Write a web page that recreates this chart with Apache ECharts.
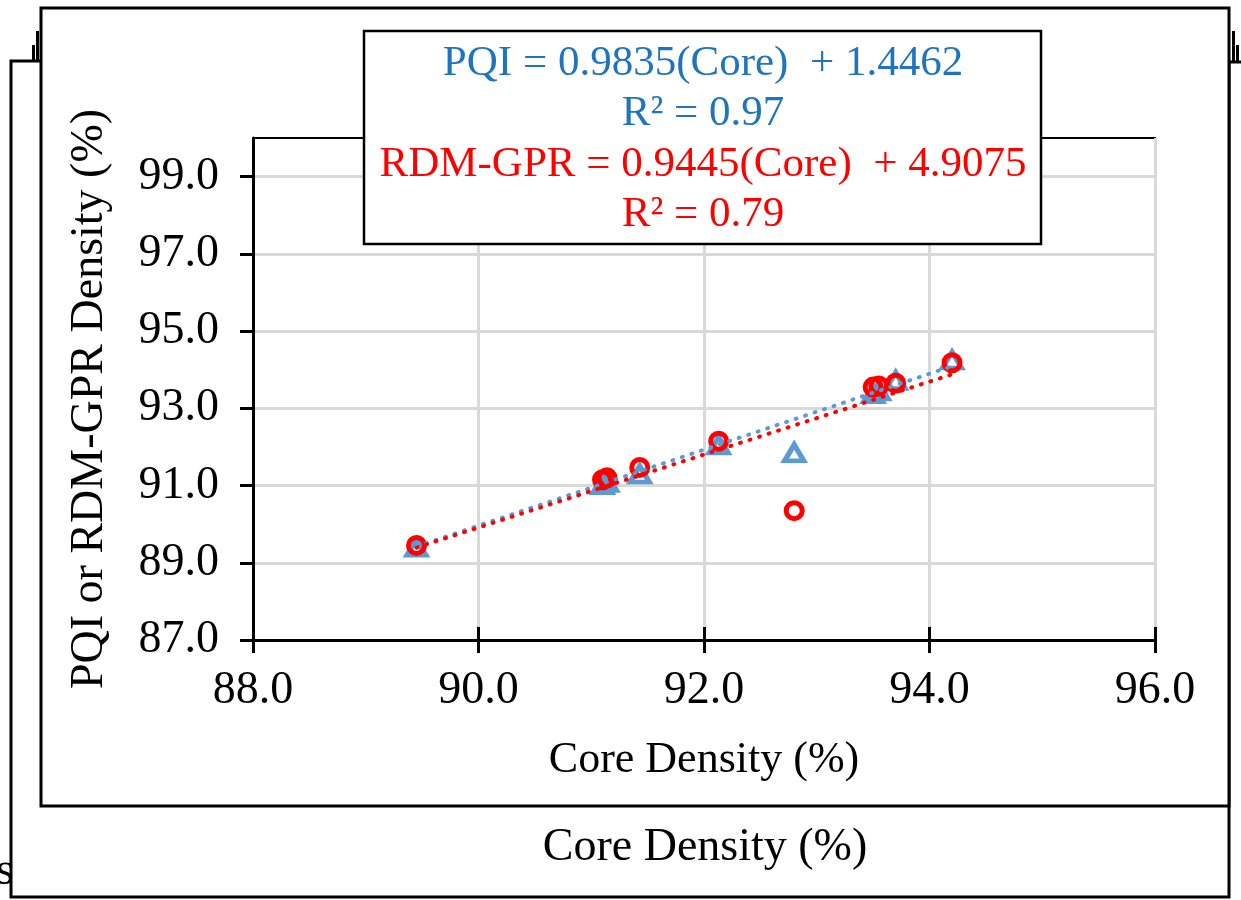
<!DOCTYPE html>
<html>
<head>
<meta charset="utf-8">
<title>Core vs PQI / RDM-GPR density</title>
<script src="https://cdn.jsdelivr.net/npm/echarts@6/dist/echarts.min.js"></script>
<style>
  html, body { margin: 0; padding: 0; background: #fff; }
  #main { width: 1241px; height: 900px; }
</style>
</head>
<body>
<div id="main"></div>
<script>
// datos
var coreDensity = [89.45, 91.10, 91.14, 91.43, 92.13, 92.80, 93.50, 93.55, 93.70, 94.20];
var pqiDensity  = [89.40, 91.02, 91.08, 91.30, 92.05, 91.85, 93.38, 93.45, 93.72, 94.25];
var rdmDensity  = [89.45, 91.15, 91.20, 91.47, 92.15, 90.35, 93.55, 93.58, 93.65, 94.18];

// ecuaciones de tendencia [pendiente, intercepto]
var pqiFit = [0.9835, 1.4462];
var rdmFit = [0.9445, 4.9075];

var yTicks = [87, 89, 91, 93, 95, 97, 99];
var xTicks = [88, 90, 92, 94, 96];

var eqLines = [
  'PQI = 0.9835(Core)  + 1.4462',
  'R\u00B2 = 0.97',
  'RDM-GPR = 0.9445(Core)  + 4.9075',
  'R\u00B2 = 0.79'
];

var serif = "'Liberation Serif', 'Times New Roman', serif";
var blue = '#5B9BD5';
var red = '#FF0000';

function pairs(xs, ys) {
  return xs.map(function (x, i) { return [x, ys[i]]; });
}
function trend(fit) {
  var lo = Math.min.apply(null, coreDensity);
  var hi = Math.max.apply(null, coreDensity);
  return [[lo, fit[0] * lo + fit[1]], [hi, fit[0] * hi + fit[1]]];
}

var chartDom = document.getElementById('main');
var myChart = echarts.init(chartDom, null, { renderer: 'canvas' });
var option;

option = {
  backgroundColor: '#fff',
  animation: false,
  textStyle: { fontFamily: serif },
  grid: {
    left: 253, top: 138, width: 902, height: 502,
    show: true, borderColor: '#000', borderWidth: 2, backgroundColor: 'transparent'
  },
  xAxis: [
    {
      type: 'value', min: 88, max: 96, interval: 2,
      name: 'Core Density (%)', nameLocation: 'middle', nameGap: 98,
      nameTextStyle: { fontFamily: serif, fontSize: 44, color: '#000' },
      axisLine: { lineStyle: { color: '#000', width: 3 } },
      axisTick: { show: true, length: 13, lineStyle: { color: '#000', width: 3 }, customValues: xTicks },
      axisLabel: {
        fontFamily: serif, fontSize: 46, color: '#000', margin: 28,
        customValues: xTicks,
        formatter: function (v) { return v.toFixed(1); }
      },
      splitLine: { show: true, lineStyle: { color: '#d9d9d9', width: 3 } }
    },
    {
      // marcas hacia adentro (cruzadas como en Excel)
      type: 'value', min: 88, max: 96, interval: 2, position: 'bottom',
      axisLine: { show: false },
      axisTick: { show: true, inside: true, length: 13, lineStyle: { color: '#000', width: 3 } },
      axisLabel: { show: false },
      splitLine: { show: false }
    }
  ],
  yAxis: {
    type: 'value', min: 87, max: 100, interval: 2,
    name: 'PQI or RDM-GPR Density (%)', nameLocation: 'middle', nameGap: 140,
    nameTextStyle: { fontFamily: serif, fontSize: 46, color: '#000', padding: [0, 20, 0, 0] },
    axisLine: { show: true, lineStyle: { color: '#000', width: 3 } },
    axisTick: { show: true, length: 13, lineStyle: { color: '#000', width: 3 }, customValues: yTicks },
    axisLabel: {
      fontFamily: serif, fontSize: 46, color: '#000', margin: 34,
      customValues: yTicks,
      formatter: function (v) { return v.toFixed(1); }
    },
    splitLine: { show: true, lineStyle: { color: '#d9d9d9', width: 3 } }
  },
  graphic: [
    // restos de texto recortado en los bordes
    {
      type: 'text', z: -21, silent: true,
      style: { text: 's', x: 14, y: 872, align: 'right', verticalAlign: 'middle', font: '46px ' + serif, fill: '#000' }
    },
    {
      type: 'rect', z: -17, silent: true,
      shape: { x: 36, y: 31, width: 3, height: 30 },
      style: { fill: '#000' }
    },
    {
      type: 'rect', z: -17, silent: true,
      shape: { x: 32, y: 45, width: 3, height: 16 },
      style: { fill: '#000' }
    },
    {
      type: 'rect', z: -17, silent: true,
      shape: { x: 1232, y: 31, width: 3, height: 31 },
      style: { fill: '#000' }
    },
    {
      type: 'rect', z: -17, silent: true,
      shape: { x: 1236, y: 45, width: 3, height: 17 },
      style: { fill: '#000' }
    },
    // marco trasero
    {
      type: 'rect', z: -20, silent: true,
      shape: { x: 11, y: 61, width: 1218, height: 836 },
      style: { fill: '#fff', stroke: '#000', lineWidth: 3 }
    },
    {
      type: 'line', z: -20, silent: true,
      shape: { x1: 1229, y1: 62, x2: 1241, y2: 62 },
      style: { stroke: '#000', lineWidth: 3 }
    },
    {
      type: 'text', z: -19, silent: true,
      style: {
        text: 'Core Density (%)', x: 705, y: 848, align: 'center', verticalAlign: 'middle',
        font: '46px ' + serif, fill: '#000'
      }
    },
    // marco del grafico
    {
      type: 'rect', z: -18, silent: true,
      shape: { x: 41, y: 8, width: 1188, height: 798 },
      style: { fill: '#fff', stroke: '#000', lineWidth: 3 }
    },
    // cuadro de ecuaciones
    {
      type: 'group', z: 100,
      children: [
        {
          type: 'rect', z: 100, silent: true,
          shape: { x: 364, y: 31, width: 677, height: 213 },
          style: { fill: '#fff', stroke: '#000', lineWidth: 2.5 }
        },
        {
          type: 'text', z: 101, silent: true,
          style: { text: eqLines[0], x: 703, y: 64, align: 'center', verticalAlign: 'middle', font: '43px ' + serif, fill: '#1F74BF' }
        },
        {
          type: 'text', z: 101, silent: true,
          style: { text: eqLines[1], x: 703, y: 114, align: 'center', verticalAlign: 'middle', font: '43px ' + serif, fill: '#1F74BF' }
        },
        {
          type: 'text', z: 101, silent: true,
          style: { text: eqLines[2], x: 703, y: 165, align: 'center', verticalAlign: 'middle', font: '43px ' + serif, fill: red }
        },
        {
          type: 'text', z: 101, silent: true,
          style: { text: eqLines[3], x: 703, y: 215, align: 'center', verticalAlign: 'middle', font: '43px ' + serif, fill: red }
        }
      ]
    }
  ],
  series: [
    {
      name: 'PQI', type: 'scatter',
      data: pairs(coreDensity, pqiDensity),
      symbol: 'triangle', symbolSize: [19, 16],
      itemStyle: { color: 'none', borderColor: blue, borderWidth: 5, opacity: 1 }
    },
    {
      name: 'RDM-GPR', type: 'scatter',
      data: pairs(coreDensity, rdmDensity),
      symbol: 'circle', symbolSize: 16,
      itemStyle: { color: 'none', borderColor: red, borderWidth: 5, opacity: 1 }
    },
    {
      name: 'PQI trend', type: 'line', data: trend(pqiFit),
      symbol: 'none', silent: true,
      lineStyle: { color: blue, width: 4, type: [1, 9], cap: 'round' }
    },
    {
      name: 'RDM trend', type: 'line', data: trend(rdmFit),
      symbol: 'none', silent: true,
      lineStyle: { color: red, width: 4, type: [1, 9], cap: 'round' }
    }
  ]
};

option && myChart.setOption(option);
</script>
</body>
</html>
